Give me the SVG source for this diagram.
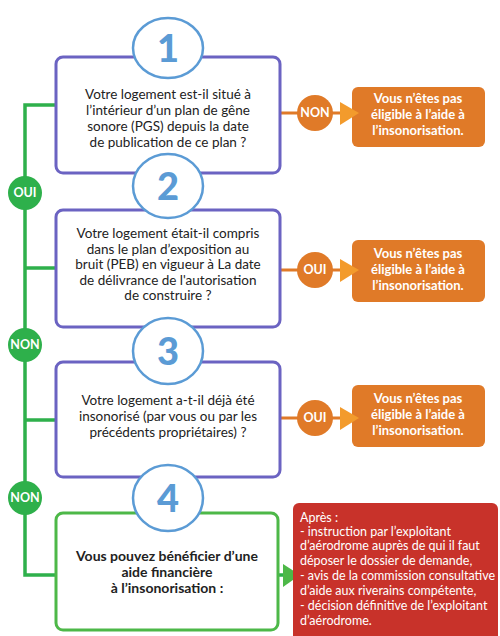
<svg xmlns="http://www.w3.org/2000/svg" width="500" height="636" viewBox="0 0 500 636">
<style>
.q{fill:#fff;stroke:#6b63c2;stroke-width:3}
.q4{fill:#fff;stroke:#4db848;stroke-width:3}
.num{fill:#fff;stroke:#5b9bd5;stroke-width:2.5}
.dg{font-family:Lato,"Open Sans",sans-serif;font-weight:900;font-size:38px;fill:#5b9bd5;text-anchor:middle}
.t{font-family:Lato,"Open Sans",sans-serif;font-size:13.5px;fill:#222;text-anchor:middle}
.tb{font-family:Lato,"Open Sans",sans-serif;font-size:14px;font-weight:bold;fill:#222;text-anchor:middle}
.ob{fill:#e07a28}
.ot{font-family:Lato,"Open Sans",sans-serif;font-size:13px;font-weight:bold;fill:#fff;text-anchor:middle}
.oc{fill:#e07a28}
.ol{stroke:#e07a28;stroke-width:3;fill:none}
.oa{fill:#f39b2c}
.gl{stroke:#2eb04b;stroke-width:3.5;fill:none}
.gc{fill:#2eb04b}
.lb{font-family:Lato,"Open Sans",sans-serif;font-size:12.5px;font-weight:bold;fill:#fff;text-anchor:middle}
.rt{font-family:Lato,"Open Sans",sans-serif;font-size:12.5px;fill:#fff}
</style>
<rect width="500" height="636" fill="#fff"/>
<g id="connectors">
  <path class="gl" d="M56 105 H25 V575 H56"/>
  <path class="gl" d="M25 268 H56 M25 420 H56"/>
  <path class="gl" d="M278 575 H286"/>
  <polygon points="283,564 300,575 283,587" fill="#4db848"/>
  <path class="ol" d="M280 113 H345"/>
  <path class="ol" d="M280 270 H345"/>
  <path class="ol" d="M280 418 H345"/>
</g>
<g id="step1">
  <rect class="q" x="56" y="57" width="224" height="116" rx="7"/>
  <ellipse class="num" cx="168" cy="48" rx="35" ry="30"/>
  <text class="dg" x="168" y="62">1</text>
  <text class="t" x="168" y="99">Votre logement est-il situé à</text>
  <text class="t" x="168" y="115">l’intérieur d’un plan de gêne</text>
  <text class="t" x="168" y="131">sonore (PGS) depuis la date</text>
  <text class="t" x="168" y="147">de publication de ce plan ?</text>
</g>
<g id="step2">
  <rect class="q" x="56" y="210" width="224" height="117" rx="7"/>
  <ellipse class="num" cx="168" cy="186" rx="35" ry="32"/>
  <text class="dg" x="168" y="200">2</text>
  <text class="t" x="168" y="238">Votre logement était-il compris</text>
  <text class="t" x="168" y="253.5">dans le plan d’exposition au</text>
  <text class="t" x="168" y="269">bruit (PEB) en vigueur à La date</text>
  <text class="t" x="168" y="284.5">de délivrance de l'autorisation</text>
  <text class="t" x="168" y="300">de construire ?</text>
</g>
<g id="step3">
  <rect class="q" x="56" y="362" width="224" height="115" rx="7"/>
  <ellipse class="num" cx="168" cy="351" rx="35" ry="33"/>
  <text class="dg" x="168" y="365">3</text>
  <text class="t" x="168" y="405">Votre logement a-t-il déjà été</text>
  <text class="t" x="168" y="421">insonorisé (par vous ou par les</text>
  <text class="t" x="168" y="437">précédents propriétaires) ?</text>
</g>
<g id="step4">
  <rect class="q4" x="56" y="513" width="222" height="117" rx="7"/>
  <ellipse class="num" cx="168" cy="498" rx="35" ry="33"/>
  <text class="dg" x="168" y="512">4</text>
  <text class="tb" x="167" y="561">Vous pouvez bénéficier d’une</text>
  <text class="tb" x="167" y="577">aide financière</text>
  <text class="tb" x="167" y="593">à l’insonorisation :</text>
</g>
<g id="lbl-oui1">
  <circle class="gc" cx="25" cy="193" r="17"/>
  <text class="lb" x="25" y="197">OUI</text>
</g>
<g id="lbl-non2">
  <circle class="gc" cx="25" cy="345" r="17"/>
  <text class="lb" x="25" y="349">NON</text>
</g>
<g id="lbl-non3">
  <circle class="gc" cx="25" cy="498" r="17"/>
  <text class="lb" x="25" y="502">NON</text>
</g>
<g id="result1">
  <rect class="ob" x="352" y="87" width="133" height="60" rx="6"/>
  <circle class="oc" cx="315" cy="113" r="18"/>
  <text class="lb" x="315" y="117">NON</text>
  <polygon class="oa" points="340,102 359,113 340,125"/>
  <text class="ot" x="418" y="103">Vous n’êtes pas</text>
  <text class="ot" x="418" y="119">éligible à l’aide à</text>
  <text class="ot" x="418" y="135">l’insonorisation.</text>
</g>
<g id="result2">
  <rect class="ob" x="352" y="240" width="133" height="62" rx="6"/>
  <circle class="oc" cx="315" cy="270" r="18"/>
  <text class="lb" x="315" y="274">OUI</text>
  <polygon class="oa" points="340,259 359,270 340,282"/>
  <text class="ot" x="418" y="258">Vous n’êtes pas</text>
  <text class="ot" x="418" y="274">éligible à l’aide à</text>
  <text class="ot" x="418" y="290">l’insonorisation.</text>
</g>
<g id="result3">
  <rect class="ob" x="352" y="385" width="133" height="62" rx="6"/>
  <circle class="oc" cx="315" cy="418" r="18"/>
  <text class="lb" x="315" y="422">OUI</text>
  <polygon class="oa" points="340,407 359,418 340,430"/>
  <text class="ot" x="418" y="403">Vous n’êtes pas</text>
  <text class="ot" x="418" y="419">éligible à l’aide à</text>
  <text class="ot" x="418" y="435">l’insonorisation.</text>
</g>
<g id="result4">
  <rect x="293" y="503" width="205" height="140" rx="6" fill="#c8322a"/>
  <text class="rt" x="300" y="522">Après :</text>
  <text class="rt" x="300" y="536">- instruction par l’exploitant</text>
  <text class="rt" x="300" y="550">d’aérodrome auprès de qui il faut</text>
  <text class="rt" x="300" y="565">déposer le dossier de demande,</text>
  <text class="rt" x="300" y="580">- avis de la commission consultative</text>
  <text class="rt" x="300" y="595">d’aide aux riverains compétente,</text>
  <text class="rt" x="300" y="610">- décision définitive de l’exploitant</text>
  <text class="rt" x="300" y="625">d’aérodrome.</text>
</g>
</svg>
